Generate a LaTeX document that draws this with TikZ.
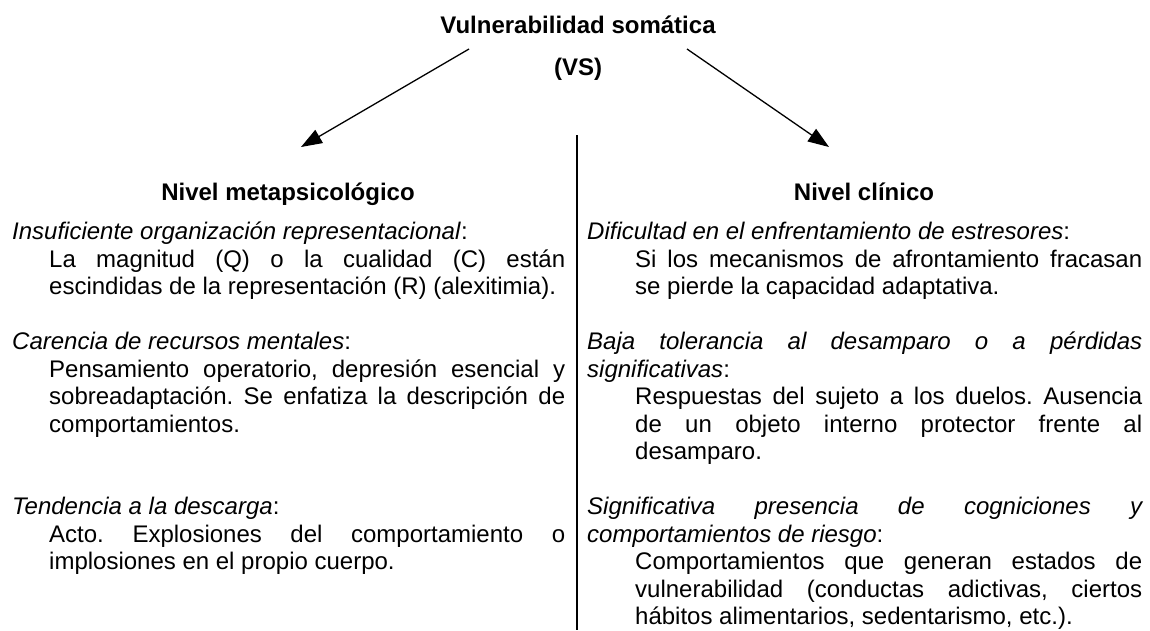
\documentclass[tikz,border=0pt]{standalone}
\usepackage{fontspec}
\setmainfont{Liberation Sans}
\usetikzlibrary{arrows.meta}
\begin{document}
\frenchspacing
\begin{tikzpicture}[x=1pt,y=-1pt,
  txt/.style={inner sep=0pt,font=\frenchspacing\fontsize{24}{27.5}\selectfont},
  head/.style={txt,font=\bfseries\fontsize{24}{27.5}\selectfont,anchor=base},
  col/.style={txt,anchor=north west,align=justify},
  arr/.style={line width=1.3pt,-{Triangle[length=21pt,width=15pt]}},
  sep/.style={line width=1.4pt}]
\useasboundingbox (0,0) rectangle (1150,630);
\fill[white] (0,0) rectangle (1150,630);

\node[head] (title) at (578,33) {Vulnerabilidad somática};
\node[head] (vs) at (578,75) {(VS)};

\coordinate (ls) at (469,49);
\coordinate (lt) at (301,147);
\coordinate (rs) at (687,49);
\coordinate (rt) at (829,147);
\draw[arr] (ls) -- (lt);
\draw[arr] (rs) -- (rt);

\coordinate (vtop) at (577,135);
\coordinate (vbot) at (577,630);
\draw[sep] (vtop) -- (vbot);

\node[head] (hl) at (288,200) {Nivel metapsicológico};
\node[head] (hr) at (864,200) {Nivel clínico};

\node[col,text width=553pt] (left) at (12,220.5) {%
\strut\textit{Insuficiente organización representacional}:\par
{\leftskip=37pt La magnitud (Q) o la cualidad (C) están\linebreak escindidas de la representación (R) (alexitimia).\par}
\mbox{}\par
\textit{Carencia de recursos mentales}:\par
{\leftskip=37pt Pensamiento operatorio, depresión esencial y\linebreak sobreadaptación. Se enfatiza la descripción de\linebreak comportamientos.\par}
\mbox{}\par\mbox{}\par
\textit{Tendencia a la descarga}:\par
{\leftskip=37pt Acto. Explosiones del comportamiento o\linebreak implosiones en el propio cuerpo.\par}};

\node[col,text width=555pt] (right) at (587,220.5) {%
\strut\textit{Dificultad en el enfrentamiento de estresores}:\par
{\leftskip=48pt Si los mecanismos de afrontamiento fracasan\linebreak se pierde la capacidad adaptativa.\par}
\mbox{}\par
\textit{Baja tolerancia al desamparo o a pérdidas\linebreak significativas}:\par
{\leftskip=48pt Respuestas del sujeto a los duelos. Ausencia\linebreak de un objeto interno protector frente al\linebreak desamparo.\par}
\mbox{}\par
\textit{Significativa presencia de cogniciones y\linebreak comportamientos de riesgo}:\par
{\leftskip=48pt Comportamientos que generan estados de\linebreak vulnerabilidad (conductas adictivas, ciertos\linebreak hábitos alimentarios, sedentarismo, etc.).\par}};
\end{tikzpicture}
\end{document}
